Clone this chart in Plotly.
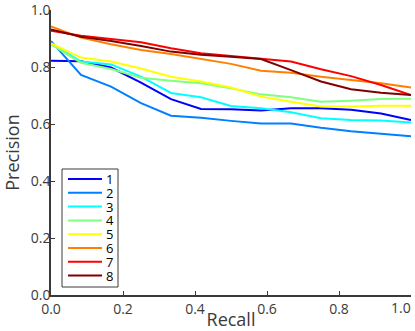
import plotly.graph_objects as go

# Recall levels (13 points, steps of 1/12)
recall = [i / 12 for i in range(13)]

prec_1 = [0.822, 0.820, 0.798, 0.745, 0.687, 0.653, 0.652, 0.647, 0.655, 0.655, 0.650, 0.637, 0.614]
prec_2 = [0.891, 0.772, 0.731, 0.673, 0.629, 0.622, 0.611, 0.602, 0.602, 0.587, 0.575, 0.567, 0.557]
prec_3 = [0.883, 0.819, 0.809, 0.766, 0.709, 0.694, 0.663, 0.655, 0.641, 0.620, 0.614, 0.612, 0.605]
prec_4 = [0.880, 0.815, 0.793, 0.762, 0.752, 0.743, 0.725, 0.704, 0.694, 0.678, 0.682, 0.688, 0.689]
prec_5 = [0.883, 0.833, 0.819, 0.795, 0.766, 0.749, 0.728, 0.696, 0.678, 0.661, 0.661, 0.664, 0.664]
prec_6 = [0.942, 0.903, 0.880, 0.860, 0.846, 0.828, 0.811, 0.787, 0.780, 0.766, 0.754, 0.743, 0.728]
prec_7 = [0.927, 0.910, 0.898, 0.887, 0.866, 0.848, 0.839, 0.830, 0.819, 0.792, 0.768, 0.737, 0.702]
prec_8 = [0.932, 0.906, 0.891, 0.874, 0.854, 0.843, 0.836, 0.828, 0.789, 0.749, 0.722, 0.710, 0.702]

nombres = ['1', '2', '3', '4', '5', '6', '7', '8']
series = [prec_1, prec_2, prec_3, prec_4, prec_5, prec_6, prec_7, prec_8]
# jet(8)
colores = ['#0000FF', '#0080FF', '#00FFFF', '#80FF80',
           '#FFFF00', '#FF8000', '#FF0000', '#800000']

ticks = [0.0, 0.2, 0.4, 0.6, 0.8, 1.0]
etiquetas = ['0.0', '0.2', '0.4', '0.6', '0.8', '1.0']

fuente = "Open Sans"
gris = '#3a3a3a'

fig = go.Figure()

for nombre, prec, color in zip(nombres, series, colores):
    fig.add_trace(go.Scatter(
        x=recall,
        y=prec,
        mode='lines',
        name=nombre,
        line=dict(width=2, color=color),
        showlegend=False
    ))

# Leyenda manual (caja compacta como en el original)
def px_x(p):
    return (p - 51) / 360


def px_y(p):
    return (295 - p) / 285


shapes = [dict(type='rect', xref='paper', yref='paper',
               x0=px_x(62), x1=px_x(118), y0=px_y(287), y1=px_y(169),
               line=dict(color=gris, width=1), fillcolor='white', layer='above')]
annotations = []
for i, (nombre, color) in enumerate(zip(nombres, colores)):
    yy = px_y(179 + i * 13.8)
    shapes.append(dict(type='line', xref='paper', yref='paper',
                       x0=px_x(68), x1=px_x(102), y0=yy, y1=yy,
                       line=dict(color=color, width=2), layer='above'))
    annotations.append(dict(text=nombre, xref='paper', yref='paper',
                            x=px_x(105), y=yy, xanchor='left', yanchor='middle',
                            showarrow=False, height=12, borderpad=0,
                            font=dict(size=13, color='black', family=fuente)))

# la última etiqueta del eje x va alineada a la derecha para que quepa
annotations.append(dict(text=etiquetas[-1], xref='x', yref='paper',
                        x=ticks[-1], y=0, xanchor='right', yanchor='middle',
                        xshift=2, yshift=-12, showarrow=False,
                        font=dict(size=14, color=gris, family=fuente)))

eje = dict(
    range=[0, 1],
    tickvals=ticks,
    showgrid=False,
    zeroline=False,
    showline=True,
    linecolor=gris,
    linewidth=1.5,
    ticks='inside',
    ticklen=4,
    tickcolor=gris,
    automargin=False,
    ticklabeloverflow='allow',
    tickfont=dict(size=14, color=gris, family=fuente),
)

fig.update_layout(
    width=415,
    height=331,
    margin=dict(l=51, r=4, t=10, b=36),
    plot_bgcolor='white',
    paper_bgcolor='white',
    xaxis=dict(eje, ticktext=etiquetas[:-1] + [''],
               title=dict(text='Recall', standoff=4,
                          font=dict(size=18, color=gris, family=fuente))),
    yaxis=dict(eje, ticktext=etiquetas, ticklabelstandoff=-4,
               title=dict(text='Precision', standoff=7,
                          font=dict(size=18, color=gris, family=fuente))),
    shapes=shapes,
    annotations=annotations,
    showlegend=False
)

fig.write_html("out.html", config={'displayModeBar': False},
               post_script="document.body.style.margin='0';")
